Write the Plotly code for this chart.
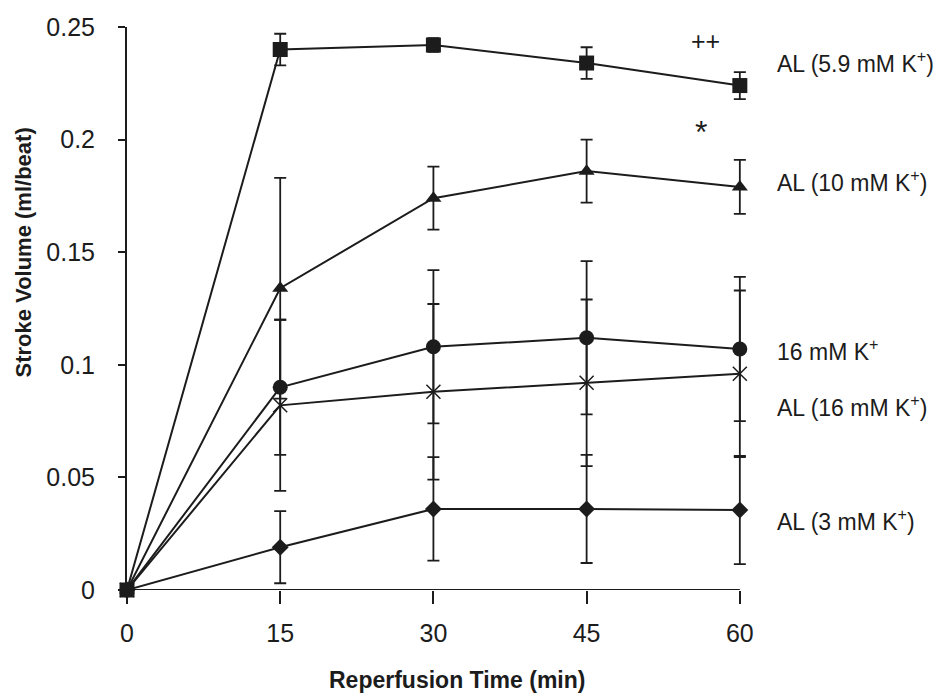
import plotly.graph_objects as go

time_min = [0, 15, 30, 45, 60]

# AL (5.9 mM K+) - squares
sq_vals = [0, 0.240, 0.242, 0.234, 0.224]
sq_err = [0, 0.007, 0.003, 0.007, 0.006]
# AL (10 mM K+) - triangles
tri_vals = [0, 0.134, 0.174, 0.186, 0.179]
tri_err = [0, 0.049, 0.014, 0.014, 0.012]
# 16 mM K+ - circles
cir_vals = [0, 0.090, 0.108, 0.112, 0.107]
cir_err = [0, 0.030, 0.034, 0.034, 0.032]
# AL (16 mM K+) - crosses
x_vals = [0, 0.082, 0.088, 0.092, 0.096]
x_err = [0, 0.038, 0.039, 0.037, 0.037]
# AL (3 mM K+) - diamonds
dia_vals = [0, 0.019, 0.036, 0.036, 0.0355]
dia_err = [0, 0.016, 0.023, 0.024, 0.024]

series_labels = ["AL (5.9 mM K<sup>+</sup>)", "AL (10 mM K<sup>+</sup>)",
                 "16 mM K<sup>+</sup>", "AL (16 mM K<sup>+</sup>)", "AL (3 mM K<sup>+</sup>)"]
label_y = [0.2345, 0.1815, 0.1067, 0.0818, 0.0311]
x_ticks = [0, 15, 30, 45, 60]
y_ticks = [0, 0.05, 0.1, 0.15, 0.2, 0.25]
y_tick_text = ["0", "0.05", "0.1", "0.15", "0.2", "0.25"]

INK = "#1c1c1c"
FONT = "Liberation Sans, Arial, sans-serif"

fig = go.Figure()

def add(vals, errs, symbol, size, lw=0):
    fig.add_trace(go.Scatter(
        x=time_min, y=vals, mode="lines+markers",
        line=dict(color=INK, width=2),
        marker=dict(symbol=symbol, size=size, color=INK,
                    line=dict(color=INK, width=lw)),
        error_y=dict(type="data", array=errs, visible=True,
                     color=INK, thickness=1.8, width=6),
        cliponaxis=False, showlegend=False))

add(dia_vals, dia_err, "diamond", 13)
add(x_vals, x_err, "x-thin", 14, 1.5)
add(cir_vals, cir_err, "circle", 15)
add(tri_vals, tri_err, "triangle-up", 14)
add(sq_vals, sq_err, "square", 15)

# x-axis line ending at 60
fig.add_shape(type="line", xref="x", yref="y", x0=0, x1=60, y0=0, y1=0,
              line=dict(color=INK, width=2), layer="below")

for txt, yv in zip(series_labels, label_y):
    fig.add_annotation(x=1.043, y=yv, xref="paper", yref="y", text=txt,
                       showarrow=False, xanchor="left", yanchor="middle",
                       font=dict(family=FONT, size=23, color=INK))

fig.add_annotation(x=56.6, y=0.2436, xref="x", yref="y", text="++",
                   showarrow=False, font=dict(family=FONT, size=25, color=INK))
fig.add_annotation(x=56.2, y=0.2035, xref="x", yref="y", text="*",
                   showarrow=False, font=dict(family=FONT, size=32, color=INK))

# axis titles
fig.add_annotation(x=32.3, y=-0.16, xref="x", yref="paper",
                   text="<b>Reperfusion Time (min)</b>", showarrow=False,
                   xanchor="center", yanchor="middle",
                   font=dict(family=FONT, size=23, color=INK))
fig.add_annotation(x=-0.167, y=0.60, xref="paper", yref="paper",
                   text="<b>Stroke Volume (ml/beat)</b>", showarrow=False,
                   textangle=-90, xanchor="center", yanchor="middle",
                   font=dict(family=FONT, size=22, color=INK))

fig.update_layout(
    width=938, height=698,
    margin=dict(l=127, r=190, t=27, b=108),
    paper_bgcolor="white", plot_bgcolor="white",
    font=dict(family=FONT, size=24, color=INK),
)
fig.update_xaxes(
    range=[0, 60.8], tickvals=x_ticks, showgrid=False, zeroline=False,
    showline=False,
    ticks="outside", ticklen=13, tickwidth=2, tickcolor=INK,
    ticklabelstandoff=8,
    tickfont=dict(family=FONT, size=25, color=INK),
)
fig.update_yaxes(
    range=[0, 0.25], tickvals=y_ticks, ticktext=y_tick_text,
    showgrid=False, zeroline=False,
    showline=True, linecolor=INK, linewidth=2,
    ticks="outside", ticklen=7, tickwidth=2, tickcolor=INK,
    ticklabelstandoff=18,
    tickfont=dict(family=FONT, size=25, color=INK),
)

fig.write_html("out.html")
